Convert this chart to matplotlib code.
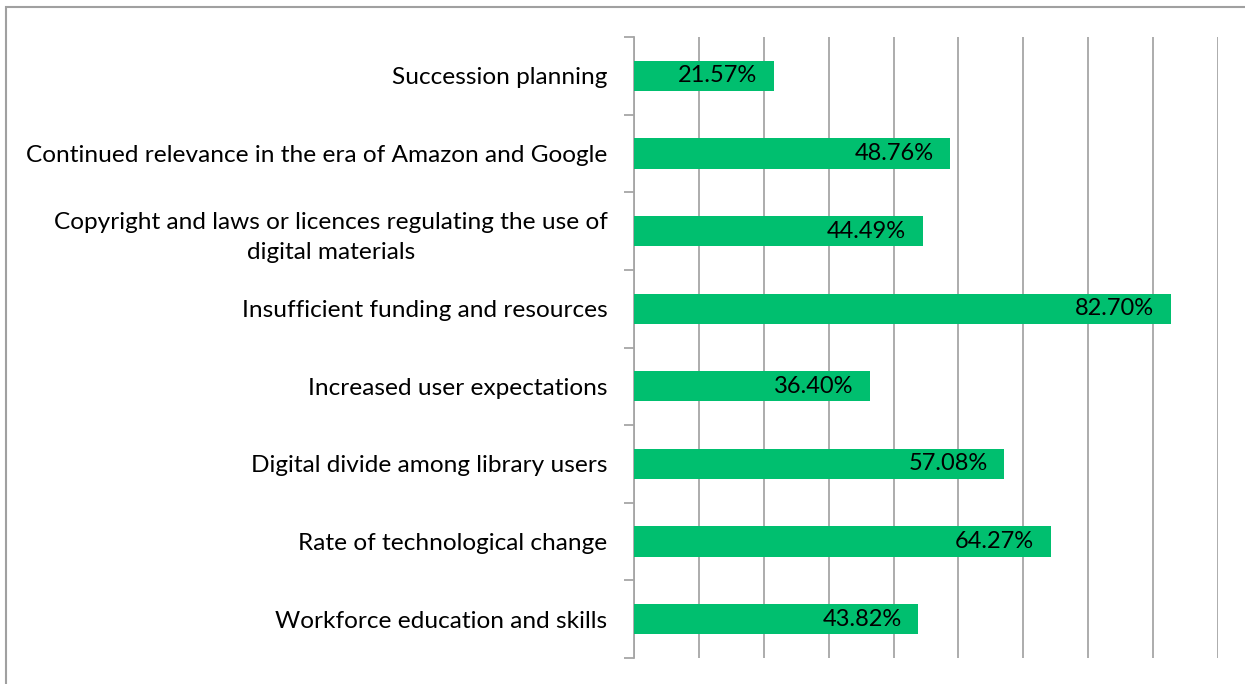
import matplotlib.pyplot as plt
import numpy as np
from matplotlib.patches import Rectangle

categories = [
    "Succession planning",
    "Continued relevance in the era of Amazon and Google",
    "Copyright and laws or licences regulating the use of\ndigital materials",
    "Insufficient funding and resources",
    "Increased user expectations",
    "Digital divide among library users",
    "Rate of technological change",
    "Workforce education and skills",
]
values = [21.57, 48.76, 44.49, 82.70, 36.40, 57.08, 64.27, 43.82]

green = "#00BF6F"
grey = "#A6A6A6"

plt.rcParams["font.family"] = ["Lato", "DejaVu Sans"]

fig = plt.figure(figsize=(12.45, 6.84), dpi=100)
ax = fig.add_axes([634 / 1245, 1 - 658 / 684, (1218 - 634) / 1245, (658 - 37) / 684])

# rahmen um die grafik
fig.patches.append(Rectangle((6 / 1245, -0.05), 1.2, 1 - 7 / 684 + 0.05,
                             transform=fig.transFigure, fill=False,
                             edgecolor="#A0A0A0", linewidth=1.5))

y = np.arange(len(categories))
ax.barh(y, values, height=0.39, color=green, zorder=3)

for yi, v in zip(y, values):
    ax.annotate(f"{v:.2f}%", (v, yi), xytext=(-12, 0), textcoords="offset points",
                ha="right", va="center", fontsize=17, color="black", zorder=4)

ax.set_xlim(0, 90)
ax.set_ylim(len(categories) - 0.5, -0.5)
ax.set_xticks(np.arange(0, 91, 10))
ax.xaxis.grid(True, color=grey, linewidth=1.3, zorder=0)
ax.tick_params(axis="x", length=0, labelbottom=False)

ax.set_yticks(y)
ax.set_yticklabels(categories, fontsize=17.6, ha="right", multialignment="center",
                   linespacing=1.5)
ax.set_yticks(np.arange(-0.5, len(categories), 1), minor=True)
ax.tick_params(axis="y", which="major", length=0, pad=19)
ax.tick_params(axis="y", which="minor", length=7, color=grey, width=1.3)

for s in ["top", "right", "bottom"]:
    ax.spines[s].set_visible(False)
ax.spines["left"].set_color(grey)
ax.spines["left"].set_linewidth(1.3)

fig.savefig("out.png", dpi=100)
